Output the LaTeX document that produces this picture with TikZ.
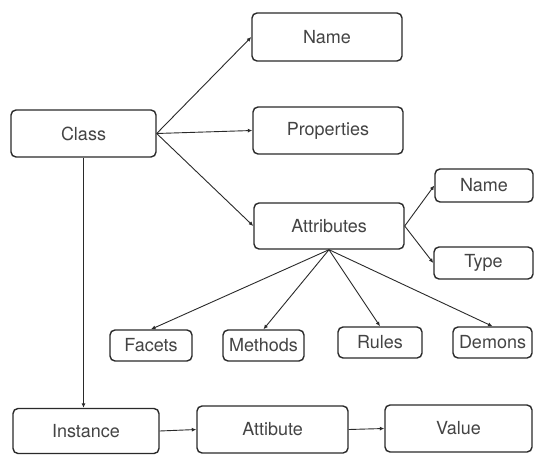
\documentclass[tikz,border=0pt]{standalone}
\usepackage{fontspec}
\setmainfont{TeX Gyre Heros}
\usetikzlibrary{arrows.meta}
\definecolor{ink}{HTML}{2A2A2A}
\definecolor{txt}{HTML}{444444}
\begin{document}
\begin{tikzpicture}[x=1pt,y=-1pt,
  box/.style={draw=ink,line width=1.4pt,rounded corners=5pt,inner sep=0pt,
    font=\fontsize{18}{20}\selectfont,text=txt,fill=white},
  conn/.style={draw=ink,line width=0.9pt,-{Latex[length=4.5pt,width=4pt]}}]
\fill[white] (0,0) rectangle (534,454);
\useasboundingbox (0,0) rectangle (534,454);
\node[box,minimum width=145pt,minimum height=47pt] (class) at (83.5,133.5) {Class};
\node[box,minimum width=150pt,minimum height=48pt] (name) at (327,37) {Name};
\node[box,minimum width=150pt,minimum height=47pt] (props) at (328,130.5) {Properties};
\node[box,minimum width=150pt,minimum height=46pt] (attr) at (329,226) {Attributes};
\node[box,minimum width=98pt,minimum height=33pt] (aname) at (484,185.5) {Name};
\node[box,minimum width=99pt,minimum height=32pt] (atype) at (483.5,263) {Type};
\node[box,minimum width=82pt,minimum height=31pt] (facets) at (151,345.5) {Facets};
\node[box,minimum width=81pt,minimum height=31pt] (methods) at (263.5,345.5) {Methods};
\node[box,minimum width=84pt,minimum height=31pt] (rules) at (380,342.5) {Rules};
\node[box,minimum width=79pt,minimum height=31pt] (demons) at (492.5,342.5) {Demons};
\node[box,minimum width=146pt,minimum height=45pt] (inst) at (86,431) {Instance};
\node[box,minimum width=151pt,minimum height=47pt] (attib) at (272.5,429.5) {Attibute};
\node[box,minimum width=147pt,minimum height=47pt] (value) at (458.5,428.5) {Value};
\draw[conn] (class.east) -- (name.west);
\draw[conn] (class.east) -- (props.west);
\draw[conn] (class.east) -- (attr.west);
\draw[conn] (attr.east) -- (aname.west);
\draw[conn] (attr.east) -- (atype.west);
\draw[conn] (attr.south) -- (facets.north);
\draw[conn] (attr.south) -- (methods.north);
\draw[conn] (attr.south) -- (rules.north);
\draw[conn] (attr.south) -- (demons.north);
\draw[conn] (class.south) -- (class.south |- inst.north);
\draw[conn] (inst.east) -- (attib.west);
\draw[conn] (attib.east) -- (value.west);
\end{tikzpicture}
\end{document}
